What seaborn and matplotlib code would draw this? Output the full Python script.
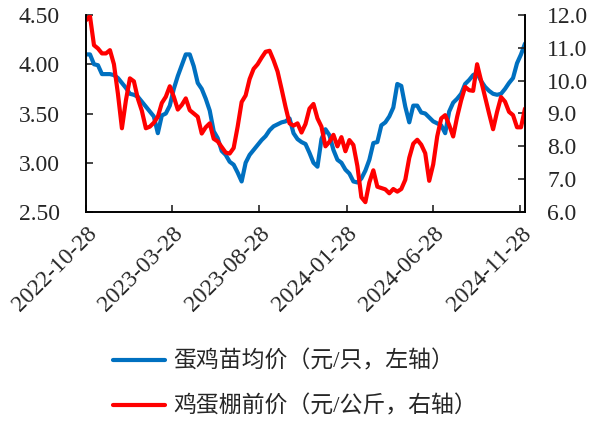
import numpy as np
import pandas as pd
import matplotlib
matplotlib.use("Agg")
import matplotlib.pyplot as plt
import matplotlib.dates as mdates
import seaborn as sns

# weekly series, first week 2022-10-28
start_date = "2022-10-28"
chick_price = [
    4.10, 4.10, 4.00, 3.99, 3.90, 3.90, 3.90, 3.89, 3.86, 3.81,
    3.76, 3.70, 3.69, 3.67, 3.62, 3.57, 3.52, 3.47, 3.30, 3.48,
    3.50, 3.58, 3.75, 3.88, 3.99, 4.10, 4.10, 3.98, 3.81, 3.75,
    3.65, 3.53, 3.32, 3.25, 3.12, 3.08, 3.01, 2.98, 2.90, 2.81,
    3.00, 3.08, 3.13, 3.18, 3.23, 3.27, 3.33, 3.37, 3.39, 3.41,
    3.42, 3.45, 3.30, 3.24, 3.21, 3.19, 3.10, 3.00, 2.96, 3.24,
    3.34, 3.28, 3.13, 3.03, 3.00, 2.93, 2.89, 2.81, 2.80, 2.84,
    2.92, 3.03, 3.20, 3.21, 3.38, 3.41, 3.47, 3.56, 3.80, 3.78,
    3.57, 3.41, 3.58, 3.58, 3.51, 3.50, 3.46, 3.42, 3.40, 3.38,
    3.30, 3.52, 3.61, 3.65, 3.70, 3.80, 3.84, 3.89, 3.91, 3.83,
    3.77, 3.73, 3.70, 3.69, 3.70, 3.75, 3.81, 3.86, 4.01, 4.10,
    4.21,
]
egg_price = [
    11.84, 11.96, 11.08, 10.98, 10.83, 10.83, 10.93, 10.50, 9.60, 8.55,
    9.40, 10.07, 9.98, 9.45, 9.08, 8.55, 8.60, 8.72, 8.90, 9.32,
    9.51, 9.83, 9.51, 9.12, 9.26, 9.46, 9.10, 9.00, 8.90, 8.39,
    8.58, 8.70, 8.23, 8.15, 7.98, 7.81, 7.78, 7.95, 8.60, 9.35,
    9.55, 10.05, 10.36, 10.50, 10.70, 10.88, 10.91, 10.62, 10.28, 9.75,
    9.20, 8.70, 8.63, 8.70, 8.42, 8.68, 9.15, 9.29, 8.85, 8.60,
    8.00, 8.14, 8.35, 8.00, 8.28, 7.85, 8.19, 8.04, 7.40, 6.45,
    6.30, 6.90, 7.27, 6.77, 6.73, 6.69, 6.57, 6.70, 6.62, 6.70,
    6.98, 7.65, 8.08, 8.20, 8.05, 7.79, 6.95, 7.45, 8.30, 8.85,
    8.95, 8.65, 8.30, 8.90, 9.40, 9.81, 9.71, 9.69, 10.50, 10.00,
    9.50, 9.00, 8.52, 9.05, 9.50, 9.36, 9.05, 8.95, 8.58, 8.58,
    9.15,
]
tick_dates = ["2022-10-28", "2023-03-28", "2023-08-28",
              "2024-01-28", "2024-06-28", "2024-11-28"]
label_chick = "蛋鸡苗均价（元/只，左轴）"
label_egg = "鸡蛋棚前价（元/公斤，右轴）"

df = pd.DataFrame({
    "date": pd.date_range(start_date, periods=len(chick_price), freq="7D"),
    "chick": chick_price,
    "egg": egg_price,
})

sns.set_style("ticks")
plt.rcParams["font.family"] = ["Liberation Serif", "Noto Sans CJK SC", "DejaVu Sans"]

fig = plt.figure(figsize=(5.9, 4.21), dpi=100)
ax = fig.add_axes([86 / 590, 1 - 212 / 421, (525 - 86) / 590, (212 - 15) / 421])
ax2 = ax.twinx()

blue = "#0070C0"
red = "#FF0000"
sns.lineplot(data=df, x="date", y="chick", ax=ax, color=blue, linewidth=3, label=label_chick, legend=False)
sns.lineplot(data=df, x="date", y="egg", ax=ax2, color=red, linewidth=3, label=label_egg, legend=False)

ax.set_xlim(df["date"].iloc[0], df["date"].iloc[-1])
ax.set_ylim(2.5, 4.5)
ax2.set_ylim(6.0, 12.0)
ax.set_yticks(np.arange(2.5, 4.51, 0.5))
ax2.set_yticks(np.arange(6, 12.1, 1.0))
ax.yaxis.set_major_formatter(plt.FuncFormatter(lambda v, p: f"{v:.2f}"))
ax2.yaxis.set_major_formatter(plt.FuncFormatter(lambda v, p: f"{v:.1f}"))
ax.set_xticks(pd.to_datetime(tick_dates))
ax.xaxis.set_major_formatter(mdates.DateFormatter("%Y-%m-%d"))
ax.set_xlabel("")
ax.set_ylabel("")
ax2.set_ylabel("")

for a in (ax, ax2):
    a.spines["top"].set_visible(False)
    for s in a.spines.values():
        s.set_linewidth(1.2)
        s.set_color("black")
ax2.spines["right"].set_visible(True)

num_kw = dict(labelfontfamily="Liberation Serif", labelsize=17)
ax.tick_params(axis="y", direction="in", length=5, width=1.2, pad=19, **num_kw)
ax2.tick_params(axis="y", direction="in", length=5, width=1.2, pad=16, **num_kw)
ax.tick_params(axis="x", direction="in", length=5, width=1.2, pad=8, **num_kw)
plt.setp(ax.get_xticklabels(), rotation=45, ha="right", rotation_mode="anchor")

handles = ax.get_lines()[:1] + ax2.get_lines()[:1]
fig.legend(handles, [label_chick, label_egg], loc="upper left",
           bbox_to_anchor=(92 / 590, 1 - 330 / 421), frameon=False,
           prop={"family": ["Liberation Serif", "Noto Sans CJK SC"], "size": 16.5},
           handlelength=2.3, handletextpad=0.35, labelspacing=1.0)

fig.savefig("out.png", dpi=100)
